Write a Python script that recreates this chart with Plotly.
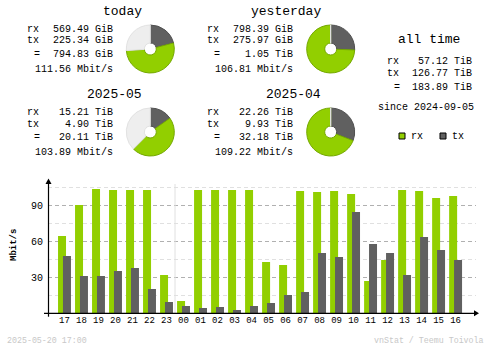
import plotly.graph_objects as go

# ---- data -------------------------------------------------------------
hours = ["17", "18", "19", "20", "21", "22", "23", "00", "01", "02", "03", "04",
         "05", "06", "07", "08", "09", "10", "11", "12", "13", "14", "15", "16"]
rx_mbit = [64.4, 90.3, 103.6, 102.8, 102.8, 102.8, 31.9, 10.3, 102.8, 102.8, 102.8, 102.8,
           42.8, 40.3, 101.9, 101.1, 101.9, 99.4, 26.9, 44.4, 102.8, 101.9, 96.1, 97.8]
tx_mbit = [47.8, 31.1, 31.1, 35.3, 37.8, 20.3, 9.4, 6.1, 4.4, 5.3, 2.8, 6.1,
           8.6, 15.3, 17.8, 50.3, 46.9, 84.4, 57.8, 50.3, 31.9, 63.6, 52.8, 44.4]

period_titles = ["today", "yesterday", "2025-05", "2025-04"]
period_rx = [(569.49, "GiB"), (798.39, "GiB"), (15.21, "TiB"), (22.26, "TiB")]
period_tx = [(225.34, "GiB"), (275.97, "GiB"), (4.90, "TiB"), (9.93, "TiB")]
period_total = [(794.83, "GiB"), (1.05, "TiB"), (20.11, "TiB"), (32.18, "TiB")]
period_rate = [111.56, 106.81, 103.89, 109.22]

alltime_rx = (57.12, "TiB")
alltime_tx = (126.77, "TiB")
alltime_total = (183.89, "TiB")
since_date = "2024-09-05"
stamp = "2025-05-20 17:00"
credit = "vnStat / Teemu Toivola"

# ---- style ------------------------------------------------------------
W, H = 500, 348
RX = "#92cf00"
TX = "#606060"
MONO = "Liberation Mono"
TO_GIB = {"GiB": 1.0, "TiB": 1024.0}


def px(x):
    return x / W


def py(y):
    return 1 - y / H


def gib(v):
    return v[0] * TO_GIB[v[1]]


def fmt(v):
    return f"{v[0]:.2f} {v[1]}"


fig = go.Figure()

# ---- hourly bars ------------------------------------------------------
idx = list(range(len(hours)))
fig.add_trace(go.Bar(x=idx, y=rx_mbit, marker=dict(color=RX, line=dict(width=0)),
                     width=0.47, offset=-0.38, hoverinfo="skip", showlegend=False))
fig.add_trace(go.Bar(x=idx, y=tx_mbit, marker=dict(color=TX, line=dict(width=0)),
                     width=0.47, offset=-0.09, hoverinfo="skip", showlegend=False))

base_px, top_px = 313.3, 180.0
fig.update_layout(
    barmode="overlay",
    xaxis=dict(domain=[px(48), px(476)], range=[-0.97, 24.2], tickvals=idx, ticktext=hours,
               showgrid=False, zeroline=False, showline=False, ticks="",
               tickfont=dict(family=MONO, size=9, color="#000")),
    yaxis=dict(domain=[py(base_px), py(top_px)], range=[0, 111.1], tickvals=[30, 60, 90],
               showgrid=True, gridcolor="#b0b0b0", griddash="4px,3px", gridwidth=1,
               minor=dict(dtick=15, tick0=15, showgrid=True, gridcolor="#e0e0e0",
                          griddash="4px,3px", gridwidth=1),
               zeroline=False, showline=False, ticks="", ticklabelstandoff=4,
               tickfont=dict(family=MONO, size=10, color="#000")),
)

shapes = []
# day boundary
shapes.append(dict(type="line", xref="x", yref="paper", x0=6.5, x1=6.5,
                   y0=py(base_px), y1=py(184), line=dict(color="#e0e0e0", width=1)))
# axes with arrows
shapes.append(dict(type="line", xref="paper", yref="paper", x0=px(44), x1=px(476),
                   y0=py(base_px), y1=py(base_px), line=dict(color="#000", width=1.2)))
shapes.append(dict(type="line", xref="paper", yref="paper", x0=px(48.5), x1=px(48.5),
                   y0=py(316.7), y1=py(181), line=dict(color="#000", width=1.2)))
shapes.append(dict(type="path", xref="paper", yref="paper",
                   path=f"M {px(479)},{py(base_px)} L {px(474)},{py(base_px-3)} L {px(474)},{py(base_px+3)} Z",
                   fillcolor="#000", line=dict(width=0)))
shapes.append(dict(type="path", xref="paper", yref="paper",
                   path=f"M {px(48.5)},{py(178.5)} L {px(45.5)},{py(184)} L {px(51.5)},{py(184)} Z",
                   fillcolor="#000", line=dict(width=0)))

# ---- period donuts ----------------------------------------------------
pie_centers = [(150.3, 49), (330.7, 49), (150.3, 132), (330.7, 132)]
R = 24
for k in range(4):
    ref = gib(period_total[1]) if k < 2 else gib(period_total[3])
    ref = max(ref, gib(period_rx[k]) + gib(period_tx[k]))
    t, r = gib(period_tx[k]), gib(period_rx[k])
    rest = max(ref - t - r, 0)
    cx, cy = pie_centers[k]
    fig.add_trace(go.Pie(
        values=[t, r, rest], sort=False, direction="clockwise", rotation=0,
        hole=0.25, textinfo="none", hoverinfo="skip", showlegend=False,
        marker=dict(colors=[TX, RX, "#eeeeee"],
                    line=dict(color=["#505050", "#74a800", "#e2e2e2"], width=1)),
        domain=dict(x=[px(cx - R), px(cx + R)], y=[py(cy + R), py(cy - R)]),
    ))

annotations = []


def text(x, y, s, anchor="left", size=10, color="#000", bold=False, angle=0):
    if bold:
        s = f"<b>{s}</b>"
    annotations.append(dict(x=px(x), y=py(y), xref="paper", yref="paper", text=s,
                            showarrow=False, xanchor=anchor, yanchor="middle",
                            textangle=angle,
                            font=dict(family=MONO, size=size, color=color)))


title_pos = [(122, 12), (286, 12), (114, 94), (293, 94)]
label_x = [25, 205, 25, 205]
value_x = [115, 295, 115, 295]
line_y0 = [29.3, 29.3, 112.8, 112.8]
offs = [0, 11.5, 25, 39.8]
for k in range(4):
    text(title_pos[k][0], title_pos[k][1], period_titles[k], anchor="center", size=13)
    y0 = line_y0[k]
    text(label_x[k], y0 + offs[0], "rx")
    text(label_x[k], y0 + offs[1], "tx")
    text(label_x[k] + 7, y0 + offs[2], "=")
    text(value_x[k], y0 + offs[0], fmt(period_rx[k]), anchor="right")
    text(value_x[k], y0 + offs[1], fmt(period_tx[k]), anchor="right")
    text(value_x[k], y0 + offs[2], fmt(period_total[k]), anchor="right")
    text(value_x[k], y0 + offs[3], f"{period_rate[k]:.2f} Mbit/s", anchor="right")

# all time block
text(429, 40, "all time", anchor="center", size=13)
text(385, 61.7, "rx")
text(385, 73.7, "tx")
text(392, 87.3, "=")
text(474, 61.7, fmt(alltime_rx), anchor="right")
text(474, 73.7, fmt(alltime_tx), anchor="right")
text(474, 87.3, fmt(alltime_total), anchor="right")
text(426, 107.3, f"since {since_date}", anchor="center")

# legend
for sx, lab, col in [(399, "rx", RX), (440, "tx", TX)]:
    shapes.append(dict(type="rect", xref="paper", yref="paper", x0=px(sx), x1=px(sx + 6),
                       y0=py(139), y1=py(133), fillcolor=col, line=dict(color="#000", width=1)))
    text(sx + 10, 136, lab)

# axis title and footer
text(14, 245, "Mbit/s", anchor="center", size=9, bold=True, angle=-90)
text(5, 340, stamp, size=8.3, color="#c8c8c8")
text(486, 340, credit, anchor="right", size=8.3, color="#c8c8c8")

fig.update_layout(
    width=W, height=H, margin=dict(l=0, r=0, t=0, b=0),
    paper_bgcolor="#ffffff", plot_bgcolor="#ffffff",
    shapes=shapes, annotations=annotations,
)

fig.write_html("out.html")
